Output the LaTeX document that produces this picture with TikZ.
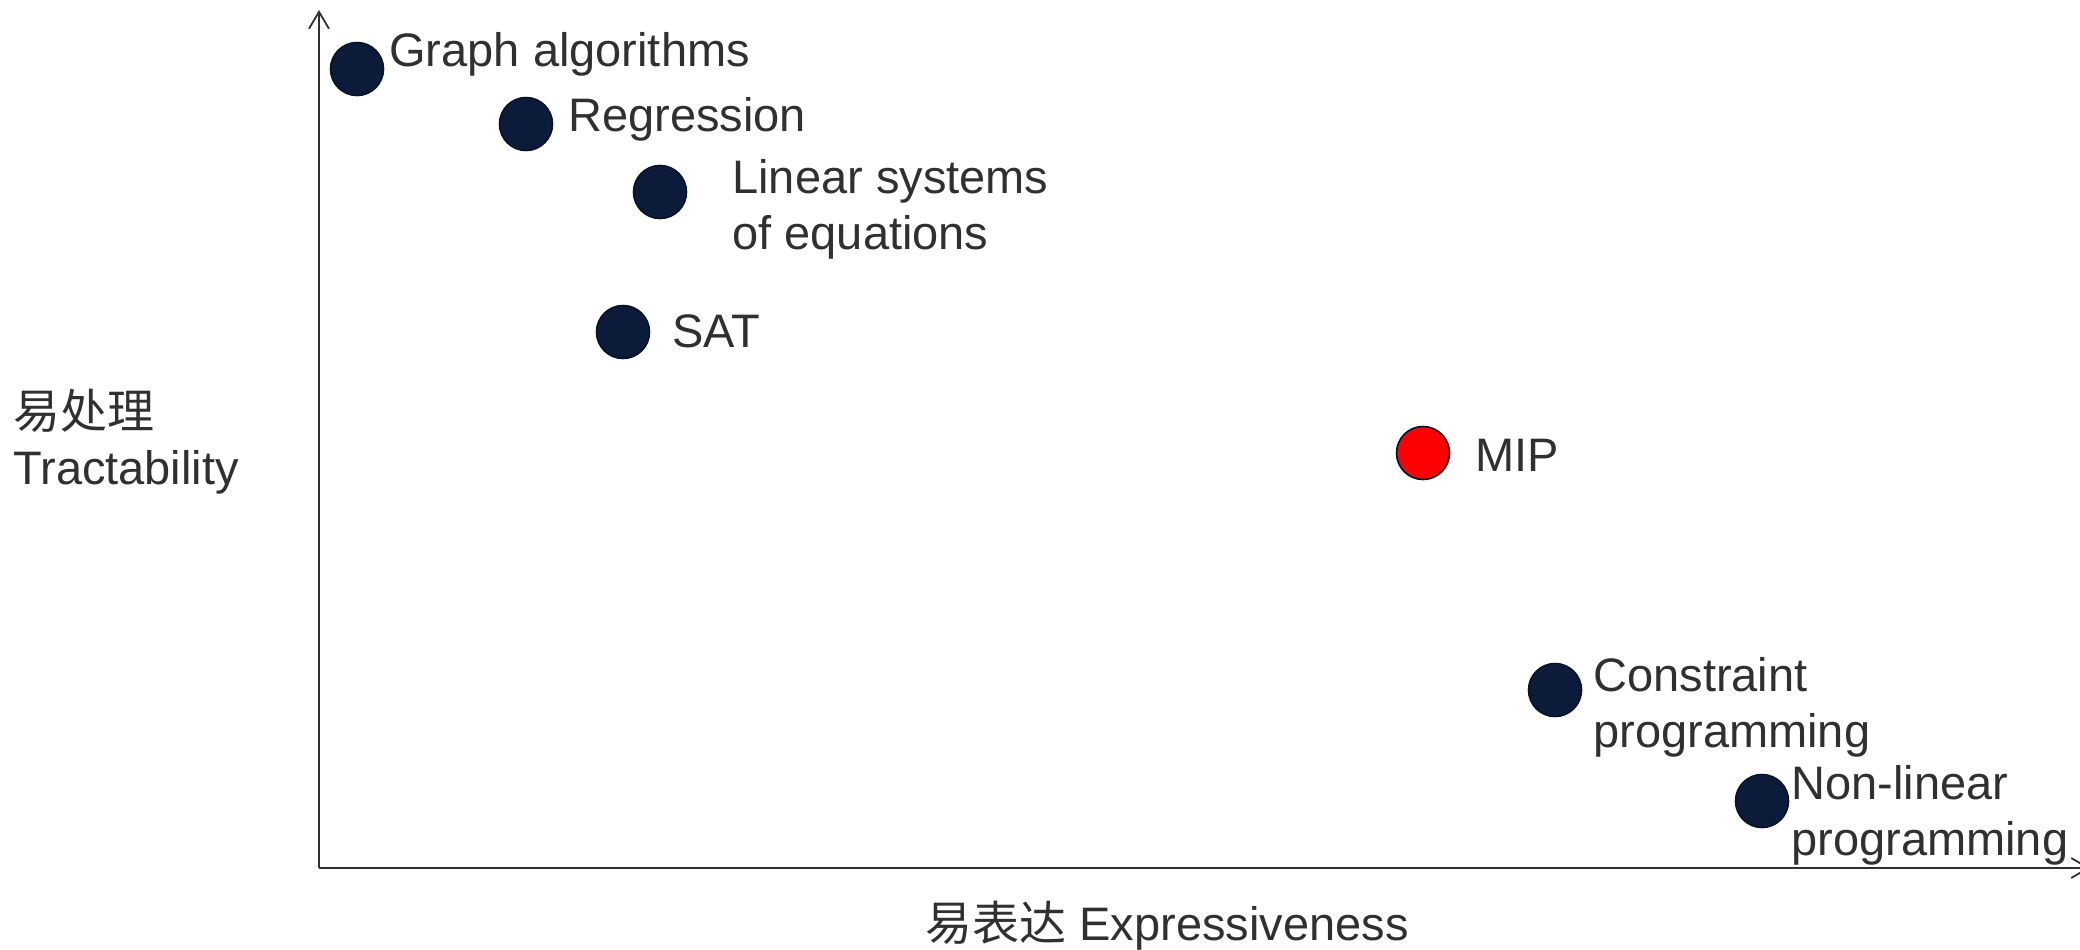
\documentclass[tikz,border=0pt]{standalone}
\usepackage{fontspec}
\setmainfont{Liberation Sans}
\newfontfamily\cjk{Noto Sans CJK SC}
\usetikzlibrary{arrows.meta}
\definecolor{ink}{HTML}{303030}
\definecolor{navy}{HTML}{0C1B3A}
\definecolor{navyedge}{HTML}{08132B}
\definecolor{mipred}{HTML}{FF0000}

\begin{document}
\begin{tikzpicture}[x=0.5pt,y=-0.5pt,
  dot/.style={circle,draw=navyedge,line width=0.8pt,fill=navy,minimum size=26.5pt,inner sep=0pt},
  lbl/.style={anchor=base west,inner sep=0pt,text=ink,align=left,font=\fontsize{23.5}{28}\selectfont},
  axis/.style={draw=ink,line width=0.9pt,-{Straight Barb[length=8.5pt,width=10pt]}}]
\useasboundingbox (0,0) rectangle (2080,949);

% axes
\coordinate (origin) at (319,868);
\coordinate (ytop) at (319,10);
\coordinate (xend) at (2090,868);
\draw[axis] (origin) -- (ytop);
\draw[axis] (origin) -- (xend);

% axis titles (multi-line labels are placed by the baseline of their last line)
\node[lbl] (ytitle) at (13,484) {{\cjk 易处理}\\Tractability};
\node[lbl] (xtitle) at (925,940) {{\cjk 易表达} Expressiveness};

% problem classes
\node[dot] (graph) at (357,69) {};
\node[lbl] (graphlbl) at (389,66) {Graph algorithms};

\node[dot] (regr) at (526,124) {};
\node[lbl] (regrlbl) at (568,131) {Regression};

\node[dot] (linsys) at (660,192) {};
\node[lbl] (linsyslbl) at (732,249) {Linear systems\\of equations};

\node[dot] (sat) at (623,332) {};
\node[lbl] (satlbl) at (672,347) {SAT};

\node[dot,fill=mipred] (mip) at (1423,453) {};
\node[lbl] (miplbl) at (1475,471) {MIP};

\node[dot] (cp) at (1555,690) {};
\node[lbl] (cplbl) at (1593,747) {Constraint\\programming};

\node[dot] (nlp) at (1762,801) {};
\node[lbl] (nlplbl) at (1791,855) {Non-linear\\programming};
\end{tikzpicture}
\end{document}
